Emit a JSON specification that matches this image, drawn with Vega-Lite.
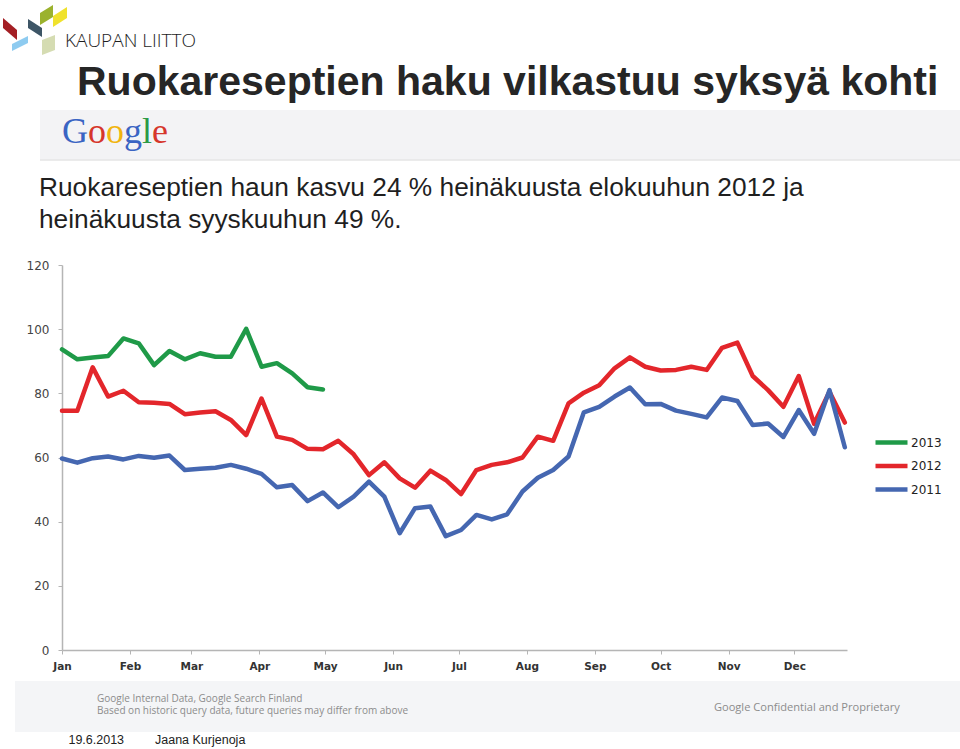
{
  "$schema": "https://vega.github.io/schema/vega-lite/v6.json",
  "width": 785,
  "height": 385,
  "autosize": {"type": "none"},
  "padding": {"left": 62, "top": 265, "right": 113, "bottom": 99},
  "background": "white",
  "config": {"view": {"stroke": null}},
  "layer": [
    {
      "data": {"values": [{}]},
      "mark": {"type": "rect", "fill": "#f3f3f5"},
      "encoding": {
        "x": {"datum": -10.03, "type": "quantitative"},
        "x2": {"datum": 410},
        "y": {"datum": 168.3, "type": "quantitative"},
        "y2": {"datum": 152.7}
      }
    },
    {
      "data": {"values": [{}]},
      "mark": {"type": "rule", "stroke": "#dcdcdc", "strokeWidth": 1},
      "encoding": {
        "x": {"datum": -10.03, "type": "quantitative"},
        "x2": {"datum": 410},
        "y": {"datum": 152.7, "type": "quantitative"}
      }
    },
    {
      "data": {"values": [{}]},
      "mark": {"type": "rect", "fill": "#f4f5f7"},
      "encoding": {
        "x": {"datum": -21.4, "type": "quantitative"},
        "x2": {"datum": 410},
        "y": {"datum": -9.66, "type": "quantitative"},
        "y2": {"datum": -25.56}
      }
    },
    {
      "data": {"values": [{}]},
      "mark": {"type": "point", "shape": "M-32,-12L-18,0L-18,10L-32,-2Z", "size": 4, "filled": true, "fill": "#a41f24", "strokeWidth": 0, "opacity": 1},
      "encoding": {"x": {"datum": -12.31, "type": "quantitative"}, "y": {"datum": 193.25, "type": "quantitative"}}
    },
    {
      "data": {"values": [{}]},
      "mark": {"type": "point", "shape": "M-23,14L-7,6L-7,13L-23,21Z", "size": 4, "filled": true, "fill": "#8ecbf0", "strokeWidth": 0, "opacity": 1},
      "encoding": {"x": {"datum": -12.31, "type": "quantitative"}, "y": {"datum": 193.25, "type": "quantitative"}}
    },
    {
      "data": {"values": [{}]},
      "mark": {"type": "point", "shape": "M-7,-11L7,-2L7,7L-7,-2Z", "size": 4, "filled": true, "fill": "#3d5566", "strokeWidth": 0, "opacity": 1},
      "encoding": {"x": {"datum": -12.31, "type": "quantitative"}, "y": {"datum": 193.25, "type": "quantitative"}}
    },
    {
      "data": {"values": [{}]},
      "mark": {"type": "point", "shape": "M5,-17L18,-25L18,-13L5,-5Z", "size": 4, "filled": true, "fill": "#9bb22d", "strokeWidth": 0, "opacity": 1},
      "encoding": {"x": {"datum": -12.31, "type": "quantitative"}, "y": {"datum": 193.25, "type": "quantitative"}}
    },
    {
      "data": {"values": [{}]},
      "mark": {"type": "point", "shape": "M18,-14L32,-23L32,-12L18,-3Z", "size": 4, "filled": true, "fill": "#f0e22c", "strokeWidth": 0, "opacity": 1},
      "encoding": {"x": {"datum": -12.31, "type": "quantitative"}, "y": {"datum": 193.25, "type": "quantitative"}}
    },
    {
      "data": {"values": [{}]},
      "mark": {"type": "point", "shape": "M7,10L20,5L20,20L7,25Z", "size": 4, "filled": true, "fill": "#d5dcb2", "strokeWidth": 0, "opacity": 1},
      "encoding": {"x": {"datum": -12.31, "type": "quantitative"}, "y": {"datum": 193.25, "type": "quantitative"}}
    },
    {
      "data": {"values": [{"t": "KAUPAN LIITTO"}]},
      "mark": {"type": "text", "align": "left", "baseline": "alphabetic", "font": "Open Sans", "fontWeight": 300, "fontSize": 19, "fill": "#1e1e1e"},
      "encoding": {"x": {"datum": 1.37, "type": "quantitative"}, "y": {"datum": 187.95, "type": "quantitative"}, "text": {"field": "t"}}
    },
    {
      "data": {"values": [{"t": "Ruokareseptien haku vilkastuu syksyä kohti"}]},
      "mark": {"type": "text", "align": "left", "baseline": "alphabetic", "font": "Liberation Sans", "fontWeight": "bold", "fontSize": 41, "fill": "#262626"},
      "encoding": {"x": {"datum": 6.84, "type": "quantitative"}, "y": {"datum": 173.0, "type": "quantitative"}, "text": {"field": "t"}}
    },
    {
      "data": {"values": [{"t": "G"}]},
      "mark": {"type": "text", "align": "left", "baseline": "alphabetic", "font": "Liberation Serif", "fontSize": 36, "fill": "#3a64c3"},
      "encoding": {"x": {"datum": 0, "type": "quantitative"}, "y": {"datum": 158.0, "type": "quantitative"}, "text": {"field": "t"}}
    },
    {
      "data": {"values": [{"t": "o"}]},
      "mark": {"type": "text", "align": "left", "baseline": "alphabetic", "font": "Liberation Serif", "fontSize": 36, "fill": "#d6362b"},
      "encoding": {"x": {"datum": 11.86, "type": "quantitative"}, "y": {"datum": 158.0, "type": "quantitative"}, "text": {"field": "t"}}
    },
    {
      "data": {"values": [{"t": "o"}]},
      "mark": {"type": "text", "align": "left", "baseline": "alphabetic", "font": "Liberation Serif", "fontSize": 36, "fill": "#f1b50f"},
      "encoding": {"x": {"datum": 20.06, "type": "quantitative"}, "y": {"datum": 158.0, "type": "quantitative"}, "text": {"field": "t"}}
    },
    {
      "data": {"values": [{"t": "g"}]},
      "mark": {"type": "text", "align": "left", "baseline": "alphabetic", "font": "Liberation Serif", "fontSize": 36, "fill": "#3a64c3"},
      "encoding": {"x": {"datum": 28.27, "type": "quantitative"}, "y": {"datum": 158.0, "type": "quantitative"}, "text": {"field": "t"}}
    },
    {
      "data": {"values": [{"t": "l"}]},
      "mark": {"type": "text", "align": "left", "baseline": "alphabetic", "font": "Liberation Serif", "fontSize": 36, "fill": "#2c9a46"},
      "encoding": {"x": {"datum": 36.48, "type": "quantitative"}, "y": {"datum": 158.0, "type": "quantitative"}, "text": {"field": "t"}}
    },
    {
      "data": {"values": [{"t": "e"}]},
      "mark": {"type": "text", "align": "left", "baseline": "alphabetic", "font": "Liberation Serif", "fontSize": 36, "fill": "#d6362b"},
      "encoding": {"x": {"datum": 41.05, "type": "quantitative"}, "y": {"datum": 158.0, "type": "quantitative"}, "text": {"field": "t"}}
    },
    {
      "data": {"values": [{"t": ["Ruokareseptien haun kasvu 24 % heinäkuusta elokuuhun 2012 ja", "heinäkuusta syyskuuhun 49 %."]}]},
      "mark": {"type": "text", "align": "left", "baseline": "alphabetic", "font": "Liberation Sans", "fontSize": 26.3, "lineHeight": 32, "fill": "#1f1f1f"},
      "encoding": {"x": {"datum": -10.49, "type": "quantitative"}, "y": {"datum": 141.5, "type": "quantitative"}, "text": {"field": "t"}}
    },
    {
      "data": {"values": [{"t": ["Google Internal Data, Google Search Finland", "Based on historic query data, future queries may differ from above"]}]},
      "mark": {"type": "text", "align": "left", "baseline": "alphabetic", "font": "Open Sans", "fontSize": 10, "lineHeight": 12.4, "fill": "#8c8c8c"},
      "encoding": {"x": {"datum": 15.96, "type": "quantitative"}, "y": {"datum": -16.1, "type": "quantitative"}, "text": {"field": "t"}}
    },
    {
      "data": {"values": [{"t": "Google Confidential and Proprietary"}]},
      "mark": {"type": "text", "align": "left", "baseline": "alphabetic", "font": "Open Sans", "fontSize": 11.1, "fill": "#8c8c8c"},
      "encoding": {"x": {"datum": 297.3, "type": "quantitative"}, "y": {"datum": -18.9, "type": "quantitative"}, "text": {"field": "t"}}
    },
    {
      "data": {"values": [{"t": "19.6.2013"}]},
      "mark": {"type": "text", "align": "right", "baseline": "alphabetic", "font": "Liberation Sans", "fontSize": 12.5, "fill": "#222222"},
      "encoding": {"x": {"datum": 28.3, "type": "quantitative"}, "y": {"datum": -29.3, "type": "quantitative"}, "text": {"field": "t"}}
    },
    {
      "data": {"values": [{"t": "Jaana Kurjenoja"}]},
      "mark": {"type": "text", "align": "left", "baseline": "alphabetic", "font": "Liberation Sans", "fontSize": 12.5, "fill": "#222222"},
      "encoding": {"x": {"datum": 42.41, "type": "quantitative"}, "y": {"datum": -29.3, "type": "quantitative"}, "text": {"field": "t"}}
    },
    {
      "data": {"values": [
        {"year": "2013", "day": 0, "value": 93.7}, {"year": "2013", "day": 7, "value": 90.6}, {"year": "2013", "day": 14, "value": 91.2}, {"year": "2013", "day": 21, "value": 91.6},
        {"year": "2013", "day": 28, "value": 97.1}, {"year": "2013", "day": 35, "value": 95.6}, {"year": "2013", "day": 42, "value": 88.8}, {"year": "2013", "day": 49, "value": 93.2},
        {"year": "2013", "day": 56, "value": 90.6}, {"year": "2013", "day": 63, "value": 92.5}, {"year": "2013", "day": 70, "value": 91.4}, {"year": "2013", "day": 77, "value": 91.4},
        {"year": "2013", "day": 84, "value": 100.1}, {"year": "2013", "day": 91, "value": 88.3}, {"year": "2013", "day": 98, "value": 89.4}, {"year": "2013", "day": 105, "value": 86.2},
        {"year": "2013", "day": 112, "value": 81.9}, {"year": "2013", "day": 119, "value": 81.2},

        {"year": "2012", "day": 0, "value": 74.6}, {"year": "2012", "day": 7, "value": 74.6}, {"year": "2012", "day": 14, "value": 88.1}, {"year": "2012", "day": 21, "value": 79.0},
        {"year": "2012", "day": 28, "value": 80.8}, {"year": "2012", "day": 35, "value": 77.2}, {"year": "2012", "day": 42, "value": 77.1}, {"year": "2012", "day": 49, "value": 76.7},
        {"year": "2012", "day": 56, "value": 73.5}, {"year": "2012", "day": 63, "value": 74.0}, {"year": "2012", "day": 70, "value": 74.4}, {"year": "2012", "day": 77, "value": 71.7},
        {"year": "2012", "day": 84, "value": 67.0}, {"year": "2012", "day": 91, "value": 78.4}, {"year": "2012", "day": 98, "value": 66.5}, {"year": "2012", "day": 105, "value": 65.5},
        {"year": "2012", "day": 112, "value": 62.7}, {"year": "2012", "day": 119, "value": 62.6}, {"year": "2012", "day": 126, "value": 65.2}, {"year": "2012", "day": 133, "value": 61.0},
        {"year": "2012", "day": 140, "value": 54.5}, {"year": "2012", "day": 147, "value": 58.5}, {"year": "2012", "day": 154, "value": 53.5}, {"year": "2012", "day": 161, "value": 50.6},
        {"year": "2012", "day": 168, "value": 55.9}, {"year": "2012", "day": 175, "value": 53.0}, {"year": "2012", "day": 182, "value": 48.6}, {"year": "2012", "day": 189, "value": 56.1},
        {"year": "2012", "day": 196, "value": 57.7}, {"year": "2012", "day": 203, "value": 58.5}, {"year": "2012", "day": 210, "value": 60.0}, {"year": "2012", "day": 217, "value": 66.5},
        {"year": "2012", "day": 224, "value": 65.2}, {"year": "2012", "day": 231, "value": 76.9}, {"year": "2012", "day": 238, "value": 80.2}, {"year": "2012", "day": 245, "value": 82.5},
        {"year": "2012", "day": 252, "value": 87.8}, {"year": "2012", "day": 259, "value": 91.2}, {"year": "2012", "day": 266, "value": 88.3}, {"year": "2012", "day": 273, "value": 87.1},
        {"year": "2012", "day": 280, "value": 87.3}, {"year": "2012", "day": 287, "value": 88.3}, {"year": "2012", "day": 294, "value": 87.3}, {"year": "2012", "day": 301, "value": 94.2},
        {"year": "2012", "day": 308, "value": 95.8}, {"year": "2012", "day": 315, "value": 85.4}, {"year": "2012", "day": 322, "value": 81.0}, {"year": "2012", "day": 329, "value": 75.8},
        {"year": "2012", "day": 336, "value": 85.4}, {"year": "2012", "day": 343, "value": 70.5}, {"year": "2012", "day": 350, "value": 80.5}, {"year": "2012", "day": 357, "value": 70.9},

        {"year": "2011", "day": 0, "value": 59.7}, {"year": "2011", "day": 7, "value": 58.4}, {"year": "2011", "day": 14, "value": 59.8}, {"year": "2011", "day": 21, "value": 60.3},
        {"year": "2011", "day": 28, "value": 59.4}, {"year": "2011", "day": 35, "value": 60.5}, {"year": "2011", "day": 42, "value": 59.9}, {"year": "2011", "day": 49, "value": 60.6},
        {"year": "2011", "day": 56, "value": 56.1}, {"year": "2011", "day": 63, "value": 56.5}, {"year": "2011", "day": 70, "value": 56.8}, {"year": "2011", "day": 77, "value": 57.7},
        {"year": "2011", "day": 84, "value": 56.5}, {"year": "2011", "day": 91, "value": 54.9}, {"year": "2011", "day": 98, "value": 50.7}, {"year": "2011", "day": 105, "value": 51.4},
        {"year": "2011", "day": 112, "value": 46.4}, {"year": "2011", "day": 119, "value": 49.1}, {"year": "2011", "day": 126, "value": 44.5}, {"year": "2011", "day": 133, "value": 47.8},
        {"year": "2011", "day": 140, "value": 52.5}, {"year": "2011", "day": 147, "value": 47.8}, {"year": "2011", "day": 154, "value": 36.4}, {"year": "2011", "day": 161, "value": 44.2},
        {"year": "2011", "day": 168, "value": 44.7}, {"year": "2011", "day": 175, "value": 35.5}, {"year": "2011", "day": 182, "value": 37.4}, {"year": "2011", "day": 189, "value": 42.1},
        {"year": "2011", "day": 196, "value": 40.7}, {"year": "2011", "day": 203, "value": 42.3}, {"year": "2011", "day": 210, "value": 49.4}, {"year": "2011", "day": 217, "value": 53.7},
        {"year": "2011", "day": 224, "value": 56.1}, {"year": "2011", "day": 231, "value": 60.3}, {"year": "2011", "day": 238, "value": 74.1}, {"year": "2011", "day": 245, "value": 75.8},
        {"year": "2011", "day": 252, "value": 79.0}, {"year": "2011", "day": 259, "value": 81.8}, {"year": "2011", "day": 266, "value": 76.6}, {"year": "2011", "day": 273, "value": 76.7},
        {"year": "2011", "day": 280, "value": 74.6}, {"year": "2011", "day": 287, "value": 73.6}, {"year": "2011", "day": 294, "value": 72.5}, {"year": "2011", "day": 301, "value": 78.7},
        {"year": "2011", "day": 308, "value": 77.6}, {"year": "2011", "day": 315, "value": 70.1}, {"year": "2011", "day": 322, "value": 70.6}, {"year": "2011", "day": 329, "value": 66.4},
        {"year": "2011", "day": 336, "value": 74.8}, {"year": "2011", "day": 343, "value": 67.4}, {"year": "2011", "day": 350, "value": 81.0}, {"year": "2011", "day": 357, "value": 63.2}
      ]},
      "mark": {"type": "line", "strokeWidth": 4.5, "strokeJoin": "round", "strokeCap": "round"},
      "encoding": {
        "x": {
          "field": "day", "type": "quantitative",
          "scale": {"domain": [0, 358], "nice": false, "zero": false},
          "axis": {
            "title": null, "grid": false,
            "values": [0, 31, 59, 90, 120, 151, 181, 212, 243, 273, 304, 334],
            "labelExpr": "['Jan','Feb','Mar','Apr','May','Jun','Jul','Aug','Sep','Oct','Nov','Dec'][indexof([0,31,59,90,120,151,181,212,243,273,304,334], datum.value)]",
            "labelFont": "DejaVu Sans", "labelFontWeight": "bold", "labelFontSize": 10.5, "labelColor": "#333333",
            "labelPadding": 7, "tickSize": 4, "tickColor": "#b5b5b5", "domainColor": "#b5b5b5", "domainWidth": 1.5,
            "labelFlush": false, "labelOverlap": false
          }
        },
        "y": {
          "field": "value", "type": "quantitative",
          "scale": {"domain": [0, 120], "nice": false},
          "axis": {
            "title": null, "grid": false,
            "values": [0, 20, 40, 60, 80, 100, 120],
            "labelFont": "DejaVu Sans", "labelFontSize": 12, "labelColor": "#444444",
            "labelPadding": 9, "tickSize": 4, "tickColor": "#b5b5b5", "domainColor": "#b5b5b5", "domainWidth": 1.5,
            "labelFlush": false, "labelOverlap": false
          }
        },
        "color": {
          "field": "year", "type": "nominal",
          "scale": {"domain": ["2013", "2012", "2011"], "range": ["#1f9a48", "#e3262b", "#4567b1"]},
          "legend": {
            "title": null, "orient": "none", "legendX": 833, "legendY": 170,
            "symbolType": "M-5.4,0H1", "symbolSize": 100, "symbolStrokeWidth": 4.5,
            "labelFont": "DejaVu Sans", "labelFontSize": 12, "labelColor": "#222222",
            "labelOffset": 1, "rowPadding": 4.5
          }
        }
      }
    }
  ]
}
